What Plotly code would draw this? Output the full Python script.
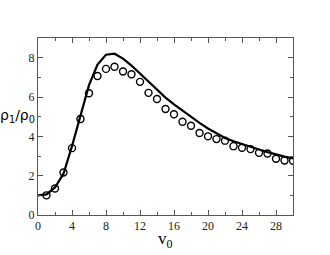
import plotly.graph_objects as go

# Simulation (open circles)
v_pts = list(range(1, 31))
rho_pts = [1.0, 1.35, 2.16, 3.40, 4.88, 6.19, 7.07, 7.43, 7.54, 7.30,
           7.16, 6.77, 6.21, 5.90, 5.39, 5.12, 4.74, 4.54, 4.17, 4.00,
           3.86, 3.78, 3.50, 3.42, 3.35, 3.16, 3.13, 2.86, 2.77, 2.76]

# Theory (solid line)
v_line = list(range(0, 31))
rho_line = [1.0, 1.05, 1.4, 2.1, 3.5, 5.1, 6.6, 7.65, 8.15, 8.2,
            7.95, 7.6, 7.2, 6.8, 6.35, 5.97, 5.62, 5.3, 4.98, 4.68,
            4.40, 4.14, 3.92, 3.75, 3.6, 3.47, 3.33, 3.2, 3.08, 2.97, 2.88]

x_ticks = [0, 4, 8, 12, 16, 20, 24, 28]
y_ticks = [0, 2, 4, 6, 8]

fig = go.Figure()
fig.add_trace(go.Scatter(x=v_line, y=rho_line, mode="lines",
                         line=dict(color="black", width=2.2), showlegend=False))
fig.add_trace(go.Scatter(x=v_pts, y=rho_pts, mode="markers",
                         marker=dict(symbol="circle-open", size=7, color="black",
                                     line=dict(width=1.4, color="black")),
                         showlegend=False))

serif = "Liberation Serif, Times New Roman, serif"
axis_common = dict(showgrid=False, zeroline=False, showline=True, mirror="ticks",
                   linecolor="#555555", linewidth=1, ticks="inside", ticklen=5,
                   tickcolor="#555555",
                   tickfont=dict(family=serif, size=12, color="#222222"))

fig.update_xaxes(range=[0, 30], tickvals=x_ticks, ticktext=[str(t) for t in x_ticks],
                 minor=dict(dtick=2, tick0=0, ticks="inside", ticklen=3, tickcolor="#555555"),
                 **axis_common)
fig.update_yaxes(range=[0, 9], tickvals=y_ticks, ticktext=[str(t) for t in y_ticks],
                 minor=dict(dtick=1, tick0=0, ticks="inside", ticklen=3, tickcolor="#555555"),
                 **axis_common)

fig.update_layout(
    width=330, height=255,
    margin=dict(l=38, r=37, t=38, b=40),
    paper_bgcolor="white", plot_bgcolor="white",
    annotations=[
        dict(text="ρ<sub>1</sub>/ρ<sub>0</sub>", xref="paper", yref="paper",
             x=-0.08, y=0.56, xanchor="center", yanchor="middle", showarrow=False,
             font=dict(family="DejaVu Sans", size=14, color="black")),
        dict(text="v<sub>0</sub>", xref="paper", yref="paper",
             x=0.5, y=-0.065, xanchor="center", yanchor="top", showarrow=False,
             font=dict(family=serif, size=17, color="black")),
    ],
)

fig.write_html("out.html", config={"displayModeBar": False},
               post_script="document.body.style.margin='0';")
